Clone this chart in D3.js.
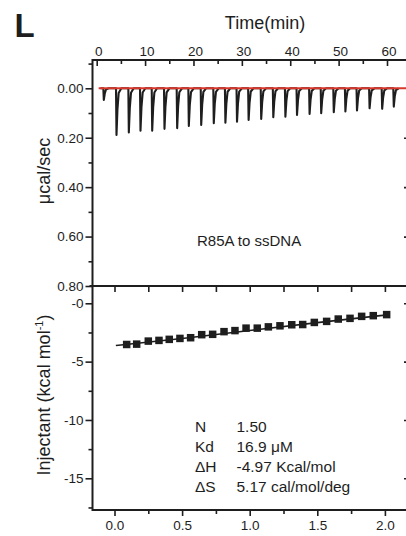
<!DOCTYPE html>
<html>
<head>
<meta charset="UTF-8">
<title>ITC R85A to ssDNA</title>
<style>
  html, body { margin: 0; padding: 0; background: #fff; }
  svg { display: block; font-family: "Liberation Sans", Arial, sans-serif; }
</style>
</head>
<body>
<svg id="chart" width="406" height="536"></svg>
<script src="https://cdn.jsdelivr.net/npm/d3@7/dist/d3.min.js"></script>
<script>
// raw thermogram: injection start (min) and peak depth (ucal/sec)
const injTimes = [1.37, 3.99, 6.54, 8.95, 11.37, 13.91, 16.53, 18.94, 21.5, 24.1, 26.5, 28.9,
                  31.3, 33.9, 36.4, 38.9, 41.3, 43.9, 46.3, 48.9, 51.3, 53.7, 56.3, 58.9, 61.3];
const injPeaks = [0.047, 0.189, 0.179, 0.172, 0.172, 0.164, 0.161, 0.152, 0.148, 0.141, 0.139, 0.135,
                  0.128, 0.124, 0.117, 0.115, 0.108, 0.104, 0.101, 0.097, 0.094, 0.090, 0.081, 0.083, 0.074];

// integrated heats: molar ratio and kcal/mol of injectant
const molarRatio = [0.090, 0.164, 0.250, 0.329, 0.405, 0.484, 0.563, 0.645, 0.726, 0.810, 0.891, 0.973,
                    1.056, 1.138, 1.224, 1.311, 1.392, 1.478, 1.569, 1.655, 1.742, 1.828, 1.914, 2.013];
const injHeat = [-3.53, -3.50, -3.24, -3.18, -3.09, -3.01, -2.95, -2.69, -2.66, -2.43, -2.34, -2.13,
                 -2.13, -2.02, -1.93, -1.84, -1.82, -1.64, -1.55, -1.35, -1.29, -1.12, -1.06, -0.97];
const fitRatio = [0.01, 0.5, 1.0, 1.5, 2.013];
const fitHeat = [-3.62, -3.02, -2.33, -1.66, -1.0];

// ticks
const timeTicks = [0, 10, 20, 30, 40, 50, 60];
const timeMinor = [5, 15, 25, 35, 45, 55, 65];
const powerTicks = [0, 0.2, 0.4, 0.6, 0.8];
const powerLabels = ["0.00", "0.20", "0.40", "0.60", "0.80"];
const powerMinor = [-0.1, 0.1, 0.3, 0.5, 0.7];
const ratioTicks = [0, 0.5, 1, 1.5, 2];
const ratioLabels = ["0.0", "0.5", "1.0", "1.5", "2.0"];
const ratioMinor = [0.25, 0.75, 1.25, 1.75];
const heatTicks = [0, -5, -10, -15];
const heatLabels = ["-0", "-5", "-10", "-15"];
const heatMinor = [-2.5, -7.5, -12.5, -17.5];

const statNames = ["N", "Kd", "\u0394H", "\u0394S"];
const statValues = ["1.50", "16.9 \u03BCM", "-4.97 Kcal/mol", "5.17 cal/mol/deg"];

const ink = "#1e1e1e";
const left = 92.5, right = 409;
const topY = 60, midY = 286, botY = 510;

const svg = d3.select("#chart");

const xTime = d3.scaleLinear().domain([0, 60]).range([96.7, 387]);
const yPow = d3.scaleLinear().domain([0, 0.8]).range([88.3, midY]);
const xRat = d3.scaleLinear().domain([0, 2]).range([114.5, 384.9]);
const yHeat = d3.scaleLinear().domain([0, -15]).range([303.3, 478.3]);

function styleAxis(g) {
  g.select(".domain").remove();
  g.selectAll(".tick line").attr("stroke", ink).attr("stroke-width", 1.6);
  g.selectAll(".tick text").attr("fill", ink).attr("font-size", 13.5)
    .attr("font-family", "'Liberation Sans', Arial, sans-serif");
}

// ---- top panel axes
svg.append("g").attr("transform", `translate(1.5,${topY})`)
  .call(d3.axisTop(xTime).tickValues(timeTicks).tickSizeInner(0).tickSizeOuter(0).tickPadding(4))
  .call(styleAxis);
svg.append("g").attr("transform", `translate(0,${topY})`)
  .call(d3.axisTop(xTime).tickValues(timeTicks).tickSizeInner(-6).tickSizeOuter(0).tickFormat(""))
  .call(styleAxis);
svg.append("g").attr("transform", `translate(0,${topY})`)
  .call(d3.axisTop(xTime).tickValues(timeMinor).tickSizeInner(-4).tickSizeOuter(0).tickFormat(""))
  .call(styleAxis);

svg.append("g").attr("transform", `translate(${left},0)`)
  .call(d3.axisLeft(yPow).tickValues(powerTicks).tickSize(7).tickPadding(2)
    .tickFormat((d, i) => powerLabels[i]))
  .call(styleAxis);
svg.append("g").attr("transform", `translate(${left},0)`)
  .call(d3.axisLeft(yPow).tickValues(powerMinor).tickSize(4).tickFormat(""))
  .call(styleAxis);
svg.append("g").attr("transform", `translate(${right},0)`)
  .call(d3.axisRight(yPow).tickValues(powerTicks.slice(1, 4)).tickSize(-5).tickFormat(""))
  .call(styleAxis);

// ---- bottom panel axes
svg.append("g").attr("transform", `translate(0,${midY})`)
  .call(d3.axisTop(xRat).tickValues(ratioTicks.concat(ratioMinor)).tickSizeInner(-6).tickSizeOuter(0).tickFormat(""))
  .call(styleAxis);
svg.append("g").attr("transform", `translate(0,${botY})`)
  .call(d3.axisBottom(xRat).tickValues(ratioTicks).tickSize(6).tickPadding(4)
    .tickFormat((d, i) => ratioLabels[i]))
  .call(styleAxis);
svg.append("g").attr("transform", `translate(0,${botY})`)
  .call(d3.axisBottom(xRat).tickValues(ratioMinor).tickSize(4).tickFormat(""))
  .call(styleAxis);

svg.append("g").attr("transform", `translate(${left},0)`)
  .call(d3.axisLeft(yHeat).tickValues(heatTicks).tickSize(7).tickPadding(2)
    .tickFormat((d, i) => heatLabels[i]))
  .call(styleAxis);
svg.append("g").attr("transform", `translate(${left},0)`)
  .call(d3.axisLeft(yHeat).tickValues(heatMinor).tickSize(4).tickFormat(""))
  .call(styleAxis);
svg.append("g").attr("transform", `translate(${right},0)`)
  .call(d3.axisRight(yHeat).tickValues(heatTicks).tickSize(-5).tickFormat(""))
  .call(styleAxis);

// frame lines
const frame = svg.append("g").attr("stroke", ink).attr("stroke-width", 2).attr("fill", "none");
frame.append("line").attr("x1", left).attr("x2", left).attr("y1", topY - 1).attr("y2", botY + 1);
frame.append("line").attr("x1", left).attr("x2", right).attr("y1", topY).attr("y2", topY);
frame.append("line").attr("x1", left - 3).attr("x2", right).attr("y1", midY).attr("y2", midY);
frame.append("line").attr("x1", left).attr("x2", right).attr("y1", botY).attr("y2", botY);

// ---- thermogram trace
const trace = [];
injTimes.forEach((t, i) => {
  const h = injPeaks[i];
  trace.push([t - 0.6, 0], [t, 0], [t + 0.1, h], [t + 0.3, h * 0.45], [t + 0.55, h * 0.1], [t + 1.1, 0]);
});
const lineTime = d3.line().x(d => xTime(d[0])).y(d => yPow(d[1]));
svg.append("path").attr("d", lineTime(trace))
  .attr("fill", "none").attr("stroke", ink).attr("stroke-width", 2.1).attr("stroke-linejoin", "round");

// baseline
svg.append("path").attr("d", lineTime([[0.4, 0], [xTime.invert(right), 0]]))
  .attr("fill", "none").attr("stroke", "#d8382b").attr("stroke-width", 2);

// ---- integrated heats
const lineRat = d3.line().x(d => xRat(d[0])).y(d => yHeat(d[1])).curve(d3.curveMonotoneX);
svg.append("path").attr("d", lineRat(fitRatio.map((r, i) => [r, fitHeat[i]])))
  .attr("fill", "none").attr("stroke", ink).attr("stroke-width", 1.6);

const sq = 7.5;
svg.append("g").selectAll("rect").data(molarRatio).join("rect")
  .attr("x", d => xRat(d) - sq / 2)
  .attr("y", (d, i) => yHeat(injHeat[i]) - sq / 2)
  .attr("width", sq).attr("height", sq)
  .attr("fill", ink);

// ---- texts
svg.append("text").attr("x", 14.5).attr("y", 36.7)
  .attr("font-size", 33).attr("font-weight", "bold").attr("fill", ink).text("L");
svg.append("text").attr("x", 265).attr("y", 29).attr("text-anchor", "middle")
  .attr("font-size", 18).attr("fill", ink).text("Time(min)");

svg.append("text").attr("transform", "translate(50,171) rotate(-90)").attr("text-anchor", "middle")
  .attr("font-size", 18).attr("fill", ink).text("\u03BCcal/sec");

const yl = svg.append("text").attr("transform", "translate(50,395) rotate(-90)").attr("text-anchor", "middle")
  .attr("font-size", 18).attr("fill", ink);
yl.append("tspan").text("Injectant (kcal mol");
yl.append("tspan").attr("font-size", 11).attr("dy", -7).text("-1");
yl.append("tspan").attr("dy", 7).text(")");

svg.append("text").attr("x", 197).attr("y", 245.5)
  .attr("font-size", 15).attr("fill", ink).text("R85A to ssDNA");

const stats = svg.append("g").attr("font-size", 15.5).attr("fill", ink);
statNames.forEach((n, i) => {
  const y = 431.5 + i * 20;
  stats.append("text").attr("x", 195).attr("y", y).text(n);
  stats.append("text").attr("x", 236.5).attr("y", y).text(statValues[i]);
});
</script>
</body>
</html>
